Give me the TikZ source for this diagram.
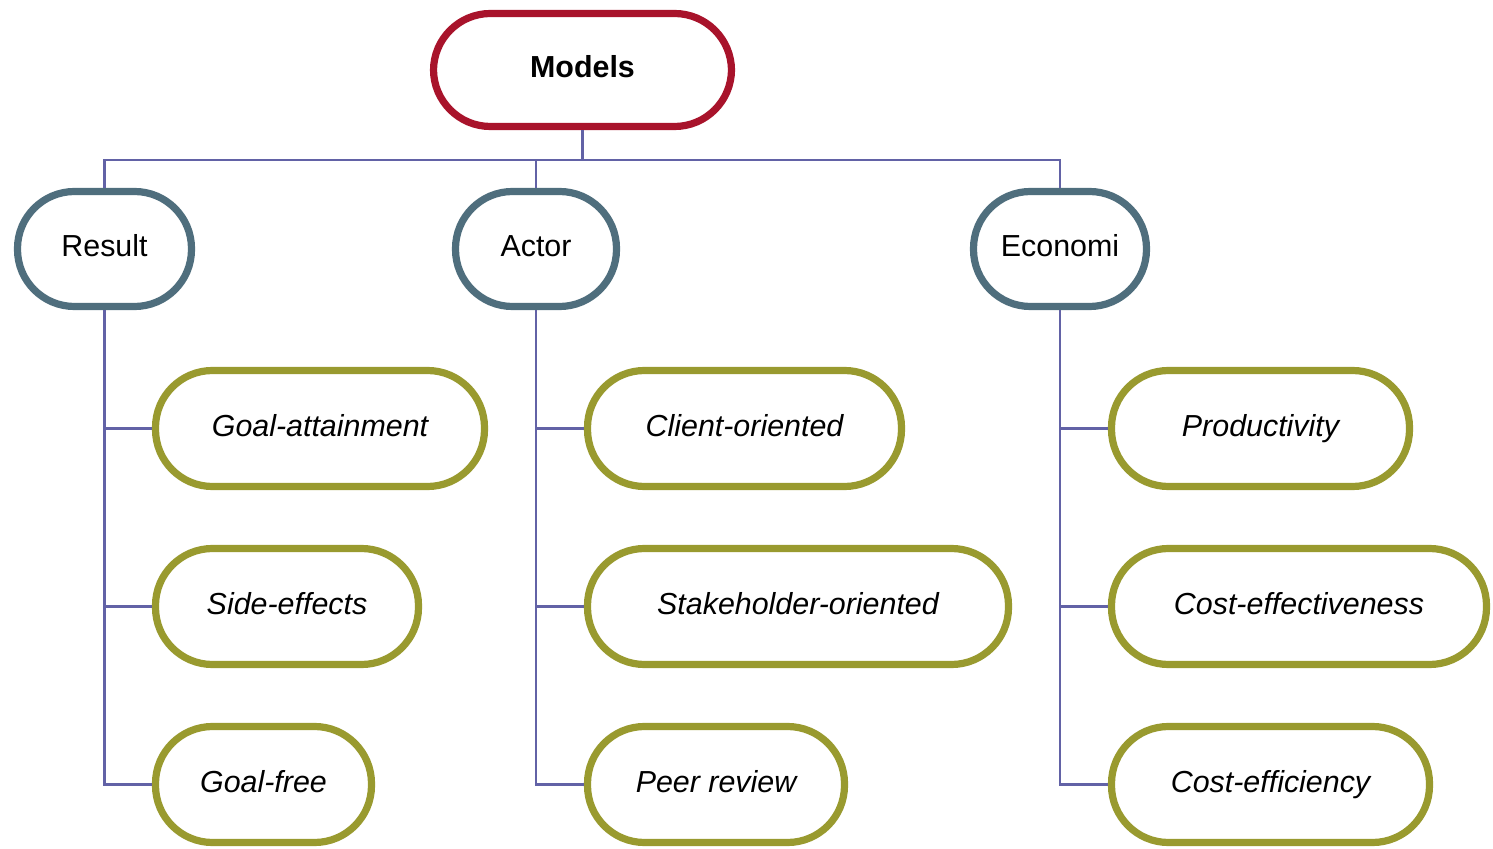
\documentclass[tikz,border=0pt]{standalone}
\usepackage{fontspec}
\setmainfont{Liberation Sans}
\definecolor{topred}{HTML}{A8132B}
\definecolor{midslate}{HTML}{4F6E7D}
\definecolor{leafolive}{HTML}{999A2F}
\definecolor{linkpurple}{HTML}{6262A6}
\begin{document}
\begin{tikzpicture}[x=0.5pt,y=-0.5pt,
  box/.style={draw, line width=3.6pt, fill=white, rounded corners=28.5pt, inner sep=0pt, text height=11pt, text depth=3.2pt, font=\fontsize{15.2}{18}\selectfont, text=black},
  topbox/.style={box, draw=topred, font=\fontsize{15.2}{18}\selectfont\bfseries},
  midbox/.style={box, draw=midslate},
  leafbox/.style={box, draw=leafolive, font=\fontsize{15.2}{18}\selectfont\itshape},
  link/.style={draw=linkpurple, line width=1.2pt}]
\useasboundingbox (0,0) rectangle (1493,849);
\coordinate (bus) at (0,160);
% nodes
\node[topbox, minimum width=149pt, minimum height=56.5pt] (models) at (582.5,70) {Models};
\node[midbox, minimum width=87pt, minimum height=57.5pt] (result) at (104.5,249) {Result};
\node[midbox, minimum width=80.5pt, minimum height=57.5pt] (actor) at (536,249) {Actor};
\node[midbox, minimum width=86.5pt, minimum height=57.5pt] (econ) at (1060,249) {Economi};
\node[leafbox, minimum width=164.5pt, minimum height=58pt] (ga) at (320,428.5) {Goal-attainment};
\node[leafbox, minimum width=131.5pt, minimum height=58pt] (se) at (287,606.5) {Side-effects};
\node[leafbox, minimum width=108pt, minimum height=58pt] (gf) at (263.5,784.5) {Goal-free};
\node[leafbox, minimum width=157pt, minimum height=58pt] (co) at (744.5,428.5) {Client-oriented};
\node[leafbox, minimum width=210.5pt, minimum height=58pt] (so) at (798,606.5) {Stakeholder-oriented};
\node[leafbox, minimum width=128.5pt, minimum height=58pt] (pr) at (716,784.5) {Peer review};
\node[leafbox, minimum width=149pt, minimum height=58pt] (pd) at (1260.5,428.5) {Productivity};
\node[leafbox, minimum width=187.5pt, minimum height=58pt] (ce) at (1299,606.5) {Cost-effectiveness};
\node[leafbox, minimum width=159pt, minimum height=58pt] (cf) at (1270.5,784.5) {Cost-efficiency};
% connectors
\path[link] (models.south) -- (models.south |- bus);
\path[link] (result.north) |- (bus -| econ.north) -- (econ.north);
\path[link] (actor.north) -- (actor.north |- bus);
\path[link] (result.south) |- (ga.west);
\path[link] (result.south) |- (se.west);
\path[link] (result.south) |- (gf.west);
\path[link] (actor.south) |- (co.west);
\path[link] (actor.south) |- (so.west);
\path[link] (actor.south) |- (pr.west);
\path[link] (econ.south) |- (pd.west);
\path[link] (econ.south) |- (ce.west);
\path[link] (econ.south) |- (cf.west);
\end{tikzpicture}
\end{document}
